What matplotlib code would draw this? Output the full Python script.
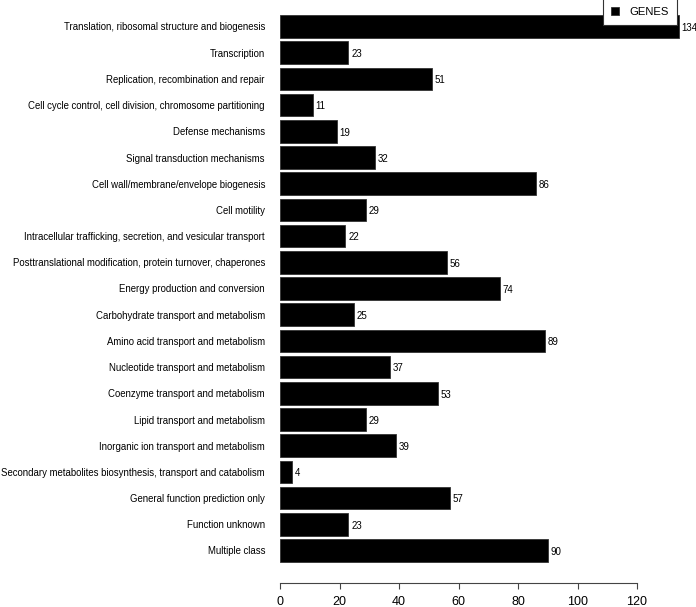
import matplotlib.pyplot as plt

plt.rcParams['font.family'] = ['Liberation Sans', 'DejaVu Sans']

categorias = [
    'Translation, ribosomal structure and biogenesis',
    'Transcription',
    'Replication, recombination and repair',
    'Cell cycle control, cell division, chromosome partitioning',
    'Defense mechanisms',
    'Signal transduction mechanisms',
    'Cell wall/membrane/envelope biogenesis',
    'Cell motility',
    'Intracellular trafficking, secretion, and vesicular transport',
    'Posttranslational modification, protein turnover, chaperones',
    'Energy production and conversion',
    'Carbohydrate transport and metabolism',
    'Amino acid transport and metabolism',
    'Nucleotide transport and metabolism',
    'Coenzyme transport and metabolism',
    'Lipid transport and metabolism',
    'Inorganic ion transport and metabolism',
    'Secondary metabolites biosynthesis, transport and catabolism',
    'General function prediction only',
    'Function unknown',
    'Multiple class',
]
genes = [134, 23, 51, 11, 19, 32, 86, 29, 22, 56, 74, 25, 89, 37, 53, 29, 39, 4, 57, 23, 90]
xticks = [0, 20, 40, 60, 80, 100, 120]

W, H = 696, 607
fig = plt.figure(figsize=(W / 100, H / 100), dpi=100)
# eje: x=0 en px 280, x=120 en px 637; eje inferior en px 583
ax = fig.add_axes([280 / W, (H - 583) / H, (637 - 280) / W, (583 - 5) / H])

pos = list(range(len(categorias)))
barras = ax.barh(pos, genes, height=0.86, color='black', edgecolor='#333333',
                 linewidth=0.6, label='GENES', zorder=2)
for b in barras:
    b.set_clip_on(False)

for y, v in zip(pos, genes):
    ax.text(v + 0.9, y + 0.05, str(v), va='center', ha='left', fontsize=7, clip_on=False)

pitch = 26.2
y0 = 26.5
ax.set_ylim((583 - y0) / pitch, (5 - y0) / pitch)
ax.set_xlim(0, 120)

ax.set_yticks(pos)
ax.set_yticklabels(categorias, fontsize=6.9)
ax.tick_params(axis='y', length=0, pad=10.8)
ax.set_xticks(xticks)
ax.tick_params(axis='x', length=4.5, width=0.8, color='#444444', labelsize=9, pad=5.0)

for s in ['top', 'right', 'left']:
    ax.spines[s].set_visible(False)
ax.spines['bottom'].set_bounds(0, 120)
ax.spines['bottom'].set_color('#444444')
ax.spines['bottom'].set_linewidth(0.8)

leg = fig.legend(handles=[barras], labels=['GENES'], loc='lower left',
                 bbox_to_anchor=(603 / W, (H - 25) / H), fontsize=8.1, frameon=True,
                 fancybox=False, edgecolor='#333333', handlelength=0.71,
                 handleheight=0.71, borderpad=0.75, handletextpad=0.89,
                 borderaxespad=0.0, framealpha=1.0)
leg.get_frame().set_linewidth(0.8)
leg.set_zorder(5)

fig.savefig('out.png', dpi=100)
